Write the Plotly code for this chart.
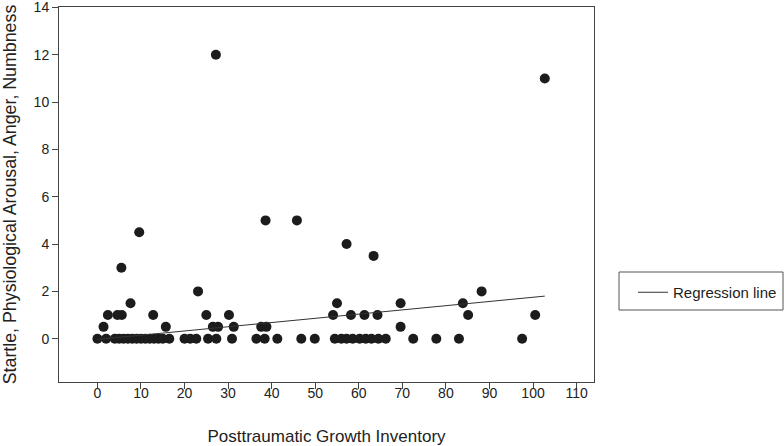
import plotly.graph_objects as go

# ---- data ----
ptgi_0 = [0, 2, 4, 5, 6, 7, 8, 9, 10, 11, 12, 13, 14, 15, 16.5,
          20, 21.3, 22.7, 25.4, 27.3, 30.9, 36.5, 38.4, 41.3, 46.8, 49.9,
          54.5, 56, 57.2, 58.6, 60.2, 61.6, 62.9, 64.5, 66.2, 72.5, 77.8, 83, 97.5]
ptgi_05 = [1.4, 15.7, 26.5, 27.7, 31.3, 37.6, 38.8, 69.6]
ptgi_1 = [2.4, 4.6, 5.6, 12.8, 25.0, 30.2, 54.1, 58.2, 61.3, 64.3, 85.1, 100.5]
ptgi_15 = [7.6, 55.0, 69.6, 83.9]
ptgi_other = [23.1, 88.2, 5.5, 63.4, 57.2, 9.6, 38.6, 45.8, 102.7, 27.2]
score_other = [2, 2, 3, 3.5, 4, 4.5, 5, 5, 11, 12]

x_vals = ptgi_0 + ptgi_05 + ptgi_1 + ptgi_15 + ptgi_other
y_vals = ([0] * len(ptgi_0) + [0.5] * len(ptgi_05) + [1] * len(ptgi_1)
          + [1.5] * len(ptgi_15) + score_other)

reg_x = [0, 102.7]
reg_y = [-0.03, 1.80]

x_ticks = list(range(0, 111, 10))
y_ticks = list(range(0, 15, 2))

FONT = "Liberation Sans, Arial, sans-serif"
AXC = "#444444"
W, H = 784, 446
ML, MR, MT, MB = 59, 190, 7, 64
PW, PH = W - ML - MR, H - MT - MB


def px_to_paper_x(px):
    return (px - ML) / PW


def px_to_paper_y(py):
    return (H - MB - py) / PH


fig = go.Figure()
fig.add_trace(go.Scatter(
    x=x_vals, y=y_vals, mode="markers", showlegend=False,
    marker=dict(size=10, color="#1c1c1c", line=dict(width=0)),
))
fig.add_trace(go.Scatter(
    x=reg_x, y=reg_y, mode="lines", name="Regression line",
    line=dict(color="#333333", width=1),
))

# legend frame
fig.add_shape(type="rect", xref="paper", yref="paper",
              x0=px_to_paper_x(619), x1=px_to_paper_x(783),
              y0=px_to_paper_y(310), y1=px_to_paper_y(272),
              line=dict(color="#555555", width=1), fillcolor="rgba(0,0,0,0)")

fig.update_layout(
    width=W, height=H,
    margin=dict(l=ML, r=MR, t=MT, b=MB, autoexpand=False),
    paper_bgcolor="white", plot_bgcolor="white",
    font=dict(family=FONT, size=14, color="#222222"),
    legend=dict(
        x=px_to_paper_x(633), y=px_to_paper_y(276), xanchor="left", yanchor="top",
        borderwidth=0, bgcolor="rgba(0,0,0,0)",
        font=dict(size=15, family=FONT, color="#222222"),
        itemwidth=30,
    ),
    xaxis=dict(
        range=[-8.82, 114.0], tickmode="array", tickvals=x_ticks,
        showline=True, mirror=True, linecolor=AXC, linewidth=1,
        ticks="outside", ticklen=6, tickcolor=AXC, showgrid=False, zeroline=False,
        tickfont=dict(size=14), ticklabelstandoff=-8, automargin=False,
        ticklabeloverflow="allow",
        title=dict(text="Posttraumatic Growth Inventory", font=dict(size=17), standoff=33),
    ),
    yaxis=dict(
        range=[-1.83, 14.02], tickmode="array", tickvals=y_ticks,
        showline=True, mirror=True, linecolor=AXC, linewidth=1,
        ticks="outside", ticklen=6, tickcolor=AXC, showgrid=False, zeroline=False,
        tickfont=dict(size=14), automargin=False, ticklabeloverflow="allow",
        title=dict(text="Startle, Physiological Arousal, Anger, Numbness",
                   font=dict(size=17.8), standoff=13),
    ),
)

fig.write_html("out.html",
               config={"displayModeBar": False},
               post_script="document.body.style.margin='0';document.body.style.overflow='hidden';")
